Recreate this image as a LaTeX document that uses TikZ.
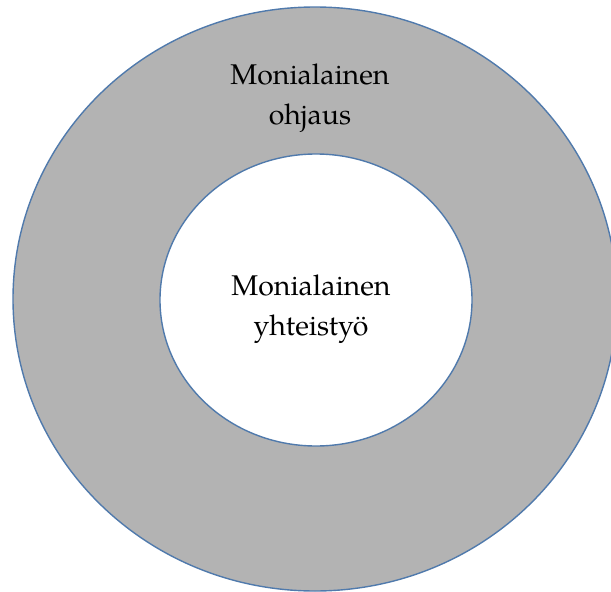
\documentclass[tikz,border=0pt]{standalone}
\usepackage{fontspec}
\setmainfont{TeX Gyre Pagella}
\definecolor{ringfill}{RGB}{179,179,179}
\definecolor{ringline}{RGB}{80,122,172}
\tikzset{
  ring/.style={draw=ringline, line width=1.4pt},
  label/.style={align=center, inner sep=0pt, font=\fontsize{28.5}{40}\selectfont}
}
\begin{document}
\begin{tikzpicture}[x=1pt, y=-1pt]
  \useasboundingbox (0,0) rectangle (611,592);
  \clip (0,0) rectangle (611,592);
  % outer ring and inner disc, concentric
  \filldraw[ring, fill=ringfill] (315,299) ellipse [x radius=302, y radius=292];
  \filldraw[ring, fill=white] (316,300) ellipse [x radius=156, y radius=146];
  % labels
  \node[label] (outer) at (310,98) {Monialainen\\ohjaus};
  \node[label] (inner) at (311,309) {Monialainen\\yhteistyö};
\end{tikzpicture}
\end{document}
